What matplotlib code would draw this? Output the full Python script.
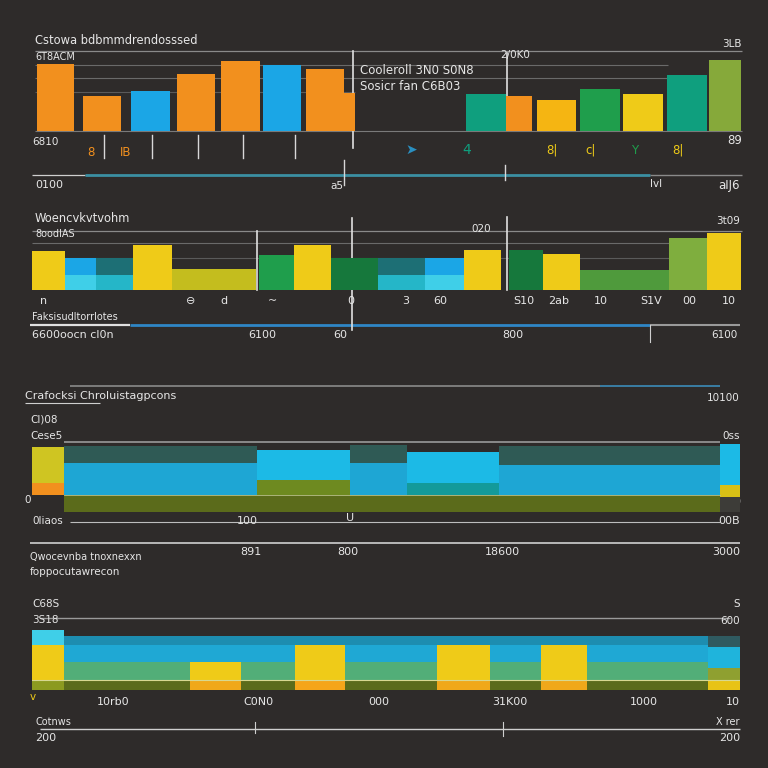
import numpy as np
import matplotlib
matplotlib.use('Agg')
import matplotlib.pyplot as plt

# colours
BG = '#2e2b2a'
ORANGE = '#f2901e'
BLUE = '#1ba6e6'
TEAL = '#0f9f7e'
YORANGE = '#f5b512'
GREEN = '#1f9e4c'
YELLOW = '#efcb18'
OLIVE = '#86a93a'
CYAN = '#3fcfe8'
DTEAL = '#1d6f75'
DGREEN = '#16783c'
LGREEN = '#4f9a3c'
YOLIVE = '#c4bd1e'
SLATE = '#2f5a55'
DOLIVE = '#5b6b1b'
TXT = '#e6e6e6'

# ---- panel 1 : plain bars ----
p1_vals = [78, 41, 47, 66, 81, 77, 72, 44, 43, 41, 36, 49, 43, 65, 83]
p1_cols = [ORANGE, ORANGE, BLUE, ORANGE, ORANGE, BLUE, ORANGE, ORANGE,
           TEAL, ORANGE, YORANGE, GREEN, YELLOW, TEAL, OLIVE]
p1_pos = [0.52, 1.56, 2.63, 3.64, 4.63, 5.56, 6.51, 7.06,
          10.09, 10.82, 11.66, 12.62, 13.58, 14.56, 15.40]
p1_wid = [0.82, 0.84, 0.87, 0.84, 0.87, 0.84, 0.84, 0.24,
          0.89, 0.58, 0.87, 0.89, 0.89, 0.89, 0.71]

# ---- panel 2 : two-tone bars ----
p2_vals = [52, 43, 43, 60, 28, 47, 60, 43, 43, 43, 53, 53, 48, 27, 27, 69, 76]
p2_low = [52, 20, 20, 60, 28, 47, 60, 43, 20, 20, 53, 53, 48, 27, 27, 69, 76]
p2_lowcol = [YELLOW, CYAN, '#25b6c8', YELLOW, YOLIVE, GREEN, YELLOW, DGREEN,
             '#25b6c8', CYAN, YELLOW, DGREEN, YELLOW, LGREEN, LGREEN, '#7fae3e', YELLOW]
p2_upcol = [YELLOW, BLUE, DTEAL, YELLOW, YOLIVE, GREEN, YELLOW, DGREEN,
            DTEAL, BLUE, YELLOW, DGREEN, YELLOW, LGREEN, LGREEN, '#7fae3e', YELLOW]
p2_left = [0, .73, 1.42, 2.24, 3.11, 5.04, 5.82, 6.64, 7.69, 8.73, 9.6,
           10.6, 11.36, 12.18, 13.22, 14.16, 15.0]
p2_right = [.73, 1.42, 2.24, 3.11, 4.98, 5.82, 6.64, 7.69, 8.73, 9.6, 10.42,
            11.36, 12.18, 13.22, 14.16, 15.0, 15.76]

# ---- panel 3 : stacked strips ----
p3_edges = [0, 4.5, 31.8, 44.9, 52.9, 66.0, 97.2, 100]
p3_base = [24, 24, 24, 24, 24, 24, 22]
p3_mid = [17, 46, 22, 46, 17, 43, 17]
p3_top = [52, 24, 43, 26, 45, 27, 58]
p3_basecol = [BG, DOLIVE, DOLIVE, DOLIVE, DOLIVE, DOLIVE, '#3d3c38']
p3_midcol = [ORANGE, '#1ea6d4', '#6e8a20', '#1ea6d4', '#139a9a', '#1ea6d4', '#d8c015']
p3_topcol = ['#cfc522', SLATE, '#1cbae6', SLATE, '#1cbae6', SLATE, '#1cbae6']

# ---- panel 4 : stacked strips ----
p4_edges = [0, 4.5, 22.3, 29.5, 37.1, 44.2, 57.2, 64.7, 71.9, 78.4, 95.5, 100]
p4_strip = [17] * 11
p4_lower = [30, 30, 30, 30, 30, 30, 30, 30, 30, 30, 20]
p4_upper = [28, 28, 28, 28, 28, 28, 28, 28, 28, 28, 35]
p4_cap = [25, 15, 15, 15, 15, 15, 15, 15, 15, 15, 18]
p4_stripcol = ['#8c9a20', DOLIVE, '#f0a81a', DOLIVE, '#f5a51a', DOLIVE,
               '#f0a81a', DOLIVE, '#f0a81a', DOLIVE, '#e8c315']
p4_lowcol = [YELLOW, '#52ae78', YELLOW, '#52ae78', YELLOW, '#52ae78',
             YELLOW, '#52ae78', YELLOW, '#52ae78', '#8fa030']
p4_upcol = [YELLOW, '#1fa8d4', '#1fa8d4', '#1fa8d4', YELLOW, '#1fa8d4',
            YELLOW, '#1fa8d4', YELLOW, '#1fa8d4', '#1fb4dc']
p4_capcol = [CYAN, '#1d8db0', '#1d8db0', '#1d8db0', '#1d8db0', '#1d8db0',
             '#1d8db0', '#1d8db0', '#1d8db0', '#1d8db0', '#2f5a60']

fig = plt.figure(figsize=(7.68, 7.68), dpi=100, facecolor=BG)
bg = fig.add_axes([0, 0, 1, 1])
bg.set_xlim(0, 768)
bg.set_ylim(768, 0)
bg.axis('off')
bg.set_facecolor(BG)


def panel(x0, x1, ytop, ybot):
    a = fig.add_axes([x0 / 768, 1 - ybot / 768, (x1 - x0) / 768, (ybot - ytop) / 768])
    a.axis('off')
    a.patch.set_alpha(0)
    return a


def hline(y, x0, x1, c='#9a9a9a', lw=1.0, z=1):
    bg.plot([x0, x1], [y, y], color=c, lw=lw, zorder=z, solid_capstyle='butt')


def vline(x, y0, y1, c='#e0e0e0', lw=1.2):
    bg.plot([x, x], [y0, y1], color=c, lw=lw, zorder=5)


def txt(x, y, s, size=7, c=TXT, ha='left'):
    bg.text(x, y, s, fontsize=size, color=c, ha=ha, va='center', zorder=6)


# gridlines panel 1 and 2
hline(51, 35, 742, '#8a8a8a', 0.9)
hline(65, 35, 668, '#6a6a6a', 0.8)
hline(78, 35, 668, '#6a6a6a', 0.8)
hline(92, 35, 355, '#5a5a5a', 0.8)
hline(231, 32, 742, '#8a8a8a', 0.9)
hline(243, 32, 740, '#6a6a6a', 0.8)
hline(258, 40, 740, '#5a5a5a', 0.8)

a1 = panel(32, 742, 45, 131)
a1.set_xlim(0, 15.78)
a1.set_ylim(0, 100)
a1.bar(p1_pos, p1_vals, width=p1_wid, color=p1_cols, zorder=3)
hline(131, 35, 742, '#7a7a7a', 0.8)

a2 = panel(32, 742, 215, 290)
a2.set_xlim(0, 15.78)
a2.set_ylim(0, 100)
w2 = np.array(p2_right) - np.array(p2_left)
up2 = np.array(p2_vals) - np.array(p2_low)
a2.bar(p2_left, p2_low, width=w2, align='edge', color=p2_lowcol, zorder=3)
a2.bar(p2_left, up2, bottom=p2_low, width=w2, align='edge', color=p2_upcol, zorder=3)

a3 = panel(32, 740, 442, 512)
a3.set_xlim(0, 100)
a3.set_ylim(0, 100)
w3 = np.diff(p3_edges)
l3 = p3_edges[:-1]
b3 = np.array(p3_base)
m3 = np.array(p3_mid)
a3.bar(l3, p3_base, width=w3, align='edge', color=p3_basecol)
a3.bar(l3, p3_mid, bottom=b3, width=w3, align='edge', color=p3_midcol)
a3.bar(l3, p3_top, bottom=b3 + m3, width=w3, align='edge', color=p3_topcol)
a3.axhline(24, xmin=0.045, xmax=0.972, color='#b9c08a', lw=0.6)

a4 = panel(32, 740, 630, 690)
a4.set_xlim(0, 100)
a4.set_ylim(0, 100)
w4 = np.diff(p4_edges)
l4 = p4_edges[:-1]
s4 = np.array(p4_strip)
lo4 = np.array(p4_lower)
u4 = np.array(p4_upper)
a4.bar(l4, p4_strip, width=w4, align='edge', color=p4_stripcol)
a4.bar(l4, p4_lower, bottom=s4, width=w4, align='edge', color=p4_lowcol)
a4.bar(l4, p4_upper, bottom=s4 + lo4, width=w4, align='edge', color=p4_upcol)
a4.bar(l4, p4_cap, bottom=s4 + lo4 + u4, width=w4, align='edge', color=p4_capcol)
a4.axhline(17, color='#d8d890', lw=0.8)

# ---- panel 1 decorations ----
txt(35, 40, 'Cstowa bdbmmdrendosssed', 8.3)
txt(35, 57, '6T8ACM', 7)
txt(32, 142, '6810', 7.5)
txt(360, 71, 'Cooleroll 3N0 S0N8', 8.5)
txt(360, 87, 'Sosicr fan C6B03', 8.5)
txt(500, 55, '2/0K0', 7.5)
txt(742, 44, '3LB', 7.5, ha='right')
txt(727, 141, '89', 8.5)
vline(353, 51, 148)
vline(507, 53, 130)
for xv in [104, 152, 198, 243, 295]:
    vline(xv, 135, 158, '#d8d8d8', 1.0)
txt(87, 152, '8', 8.5, ORANGE)
txt(120, 152, 'IB', 8.5, ORANGE)
txt(405, 150, '➤', 10, '#2a8fc0')
txt(462, 150, '4', 10, TEAL)
txt(546, 150, '8|', 8.5, YELLOW)
txt(585, 150, 'c|', 8.5, YELLOW)
txt(631, 150, 'Y', 8.5, GREEN)
txt(672, 150, '8|', 8.5, YELLOW)
hline(175, 32, 85, '#cfcfcf', 0.9)
hline(175, 85, 650, '#3b8fa3', 2.0)
hline(175, 650, 742, '#8a8a8a', 1.0)
vline(344, 160, 185, '#d8d8d8', 1.0)
vline(505, 165, 180, '#d8d8d8', 1.0)
txt(35, 185, '0100', 8)
txt(330, 186, 'a5', 7.5)
txt(650, 184, 'lvl', 7.5)
txt(740, 185, 'aIJ6', 8.5, ha='right')

# ---- panel 2 decorations ----
txt(35, 219, 'Woencvkvtvohm', 8.3)
txt(35, 234, '8oodIAS', 7)
txt(471, 229, '020', 7.5)
txt(740, 221, '3t09', 7.5, ha='right')
vline(257, 231, 290)
vline(352, 218, 330)
vline(507, 217, 290)
for xx, s in [(40, 'n'), (186, '⊖'), (220, 'd'), (268, '~'), (347, '0'),
              (402, '3'), (433, '60'), (513, 'S10'), (548, '2ab'), (594, '10'),
              (640, 'S1V'), (682, '00'), (722, '10')]:
    txt(xx, 301, s, 8)
txt(32, 317, 'Faksisudltorrlotes', 7)
hline(325, 30, 130, '#e0e0e0', 1.6)
hline(325, 130, 650, '#2f86c6', 2.0)
hline(325, 650, 740, '#9a9a9a', 1.5)
vline(650, 325, 342, '#cfcfcf', 0.8)
txt(32, 335, '6600oocn cl0n', 8)
txt(248, 335, '6100', 8)
txt(333, 335, '60', 8)
txt(502, 335, '800', 8)
txt(738, 335, '6100', 7.5, ha='right')

# ---- panel 3 decorations ----
hline(386, 70, 600, '#8a8a8a', 1.2)
hline(386, 600, 720, '#3c8cb8', 1.2)
txt(25, 396, 'Crafocksi Chroluistagpcons', 8)
hline(403, 25, 100, '#cfcfcf', 0.8)
txt(740, 398, '10100', 7.5, ha='right')
txt(30, 420, 'CI)08', 7.5)
txt(30, 436, 'Cese5', 7.5)
txt(740, 436, '0ss', 7.5, ha='right')
hline(442, 64, 720, '#9a9a9a', 1.2)
txt(24, 500, '0', 7.5)
txt(740, 502, '0', 8, ha='right')
hline(522, 70, 720, '#bdbdbd', 0.8)
txt(32, 521, '0liaos', 7.5, '#e6e6e6')
txt(237, 521, '100', 8)
txt(346, 518, 'U', 8)
txt(740, 521, '00B', 8, ha='right')
hline(543, 30, 740, '#d0d0d0', 1.2)
txt(240, 552, '891', 8)
txt(337, 552, '800', 8)
txt(485, 552, '18600', 8)
txt(740, 552, '3000', 8, ha='right')
txt(30, 557, 'Qwocevnba tnoxnexxn', 7)
txt(30, 572, 'foppocutawrecon', 7.5)

# ---- panel 4 decorations ----
txt(32, 604, 'C68S', 7.5)
txt(32, 620, '3S18', 7.5)
txt(740, 604, 'S', 7.5, ha='right')
txt(740, 621, '600', 7.5, ha='right')
hline(618, 40, 730, '#9a9a9a', 1.0)
txt(30, 697, 'v', 7.5, YELLOW)
txt(97, 702, '10rb0', 8)
txt(243, 702, 'C0N0', 8)
txt(368, 702, '000', 8)
txt(492, 702, '31K00', 8)
txt(630, 702, '1000', 8)
txt(740, 702, '10', 8, ha='right')
txt(35, 722, 'Cotnws', 7)
txt(35, 738, '200', 8)
txt(740, 722, 'X rer', 7, ha='right')
txt(740, 738, '200', 8, ha='right')
hline(729, 40, 740, '#cfcfcf', 1.0)
vline(255, 722, 733, '#cfcfcf', 0.8)
vline(503, 722, 736, '#cfcfcf', 0.8)

fig.savefig('out.png', dpi=100, facecolor=BG)
